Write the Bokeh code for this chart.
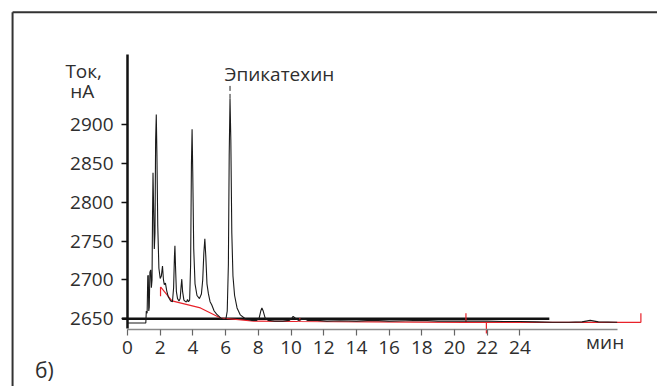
from bokeh.plotting import figure
from bokeh.models import LinearAxis, FixedTicker, Label
from bokeh.embed import file_html
from bokeh.resources import INLINE

# ---- data ----
signal_t = [0, 1.12, 1.15, 1.2, 1.24, 1.27, 1.3, 1.33, 1.37, 1.42, 1.46, 1.5, 1.53, 1.56, 1.6,
            1.64, 1.68, 1.72, 1.76, 1.8, 1.85, 1.92, 2.0, 2.07, 2.14, 2.2, 2.25, 2.32, 2.4, 2.5,
            2.64, 2.75, 2.82, 2.87, 2.9, 2.94, 2.99, 3.06, 3.15, 3.22, 3.28, 3.32, 3.37, 3.45,
            3.55, 3.62, 3.67, 3.73, 3.8, 3.86, 3.91, 3.95, 3.99, 4.05, 4.13, 4.25, 4.4, 4.52,
            4.6, 4.67, 4.73, 4.79, 4.86, 4.95, 5.05, 5.15, 5.3, 5.45, 5.6, 5.75, 5.9, 6.02,
            6.1, 6.17, 6.22, 6.27, 6.32, 6.38, 6.45, 6.55, 6.7, 6.9, 7.2, 7.6, 7.9, 8.05, 8.15,
            8.22, 8.3, 8.42, 8.6, 9.0, 9.5, 9.9, 10.05, 10.13, 10.25, 10.45, 10.8, 11.0, 11.6,
            12.2, 13, 14, 15, 16, 17, 18, 19, 20, 21, 22, 23, 24, 25, 26, 27, 27.8, 28.3,
            28.8, 29.95]
signal_v = [2644.5, 2644.5, 2660, 2657, 2705, 2706, 2660, 2665, 2710, 2713, 2690, 2700, 2780,
            2838, 2790, 2740, 2760, 2880, 2913, 2860, 2770, 2715, 2702, 2705, 2718, 2700, 2694,
            2696, 2686, 2678, 2673, 2672, 2690, 2730, 2744, 2715, 2685, 2676, 2673, 2676, 2692,
            2701, 2685, 2674, 2672, 2672, 2675, 2672, 2674, 2720, 2850, 2894, 2840, 2740, 2695,
            2680, 2676, 2682, 2700, 2735, 2753, 2730, 2695, 2682, 2672, 2668, 2660, 2656, 2653,
            2650, 2649, 2650, 2660, 2720, 2860, 2933, 2880, 2760, 2705, 2680, 2664, 2655, 2650,
            2648, 2648, 2651, 2660, 2664, 2660, 2651, 2648, 2647, 2647, 2648, 2651, 2653, 2651,
            2648, 2650, 2648, 2648, 2647, 2647.5, 2647, 2648, 2647, 2647.5, 2648, 2647, 2647,
            2647, 2647, 2646.5, 2646.5, 2646, 2645.5, 2645.5, 2646, 2648, 2646, 2645.5]

red_t = [2.02, 2.72, 4.46, 5.69, 7.73, 10.4, 15, 20.7, 26, 31.4]
red_v = [2691, 2673, 2664, 2651, 2647, 2646.5, 2646, 2645.5, 2645.3, 2645.3]

red_tick_t = [2.02, 10.54, 20.7, 21.95, 31.4]
red_tick_v0 = [2679, 2646.5, 2645.5, 2645.5, 2645.3]
red_tick_v1 = [2691, 2651, 2657, 2631, 2657]

baseline_level = 2650
baseline_t = [-0.33, 25.8]

y_ticks = [2650, 2700, 2750, 2800, 2850, 2900]
x_ticks = [0, 2, 4, 6, 8, 10, 12, 14, 16, 18, 20, 22, 24]

peak_label = "Эпикатехин"
peak_t = 6.27
peak_v = 2933

FONT = "Open Sans"
TXT = "#2e2e2e"
FS = "19px"

p = figure(width=657, height=386, x_range=(-7.768, 32.416), y_range=(2562.87, 3059.66),
           min_border=0, toolbar_location=None, output_backend="svg",
           x_axis_type=None, y_axis_type=None)
p.outline_line_color = None
p.xgrid.visible = False
p.ygrid.visible = False

# outer frame (top and left only)
p.segment(x0=[-7.03, -7.03], y0=[3044.6, 3044.6], x1=[33.0, -7.03], y1=[3044.6, 2550],
          line_color="#333333", line_width=2)

# axes
yax = LinearAxis(fixed_location=0, ticker=FixedTicker(ticks=y_ticks), bounds=(2637, 2990))
yax.axis_line_color = "#111111"
yax.axis_line_width = 2.5
yax.major_tick_line_color = "#111111"
yax.major_tick_line_width = 1.5
yax.major_tick_out = 6
yax.major_tick_in = 0
yax.minor_tick_line_color = None
yax.major_label_standoff = 8
yax.major_label_text_font = FONT
yax.major_label_text_font_size = FS
yax.major_label_text_color = TXT
p.add_layout(yax, "left")

xax = LinearAxis(fixed_location=2636, ticker=FixedTicker(ticks=x_ticks), bounds=(0, 29.95))
xax.axis_line_color = "#8a8a8a"
xax.axis_line_width = 1.5
xax.major_tick_line_color = "#666666"
xax.major_tick_line_width = 1.2
xax.major_tick_out = 6
xax.major_tick_in = 0
xax.minor_tick_line_color = None
xax.major_label_standoff = 5
xax.major_label_text_font = FONT
xax.major_label_text_font_size = FS
xax.major_label_text_color = TXT
p.add_layout(xax, "below")

# baseline at 2650
p.line(x=baseline_t, y=[baseline_level] * len(baseline_t), line_color="#111111", line_width=2.5)

# red integration baseline
p.line(x=red_t, y=red_v, line_color="#e8222a", line_width=1.2)
p.segment(x0=red_tick_t, y0=red_tick_v0, x1=red_tick_t, y1=red_tick_v1,
          line_color="#e8222a", line_width=1.2)

# signal
p.line(x=signal_t, y=signal_v, line_color="#1a1a1a", line_width=1.1)

# peak marker
p.segment(x0=[peak_t], y0=[2933], x1=[peak_t], y1=[2950], line_color="#222222",
          line_width=1, line_dash="5 3")

lab_kw = dict(text_font=FONT, text_font_size=FS, text_color=TXT, text_baseline="alphabetic")
p.add_layout(Label(x=5.93, y=2965.5, text=peak_label, **lab_kw))
p.add_layout(Label(x=-3.8, y=2969.5, text="Ток,", **lab_kw))
p.add_layout(Label(x=-3.5, y=2943.4, text="нА", **lab_kw))
p.add_layout(Label(x=28.05, y=2619.5, text="мин", **lab_kw))
lab_b = dict(lab_kw)
lab_b["text_font_size"] = "21px"
p.add_layout(Label(x=-5.66, y=2583.5, text="б)", **lab_b))

open("out.html", "w").write(file_html(p, INLINE))
